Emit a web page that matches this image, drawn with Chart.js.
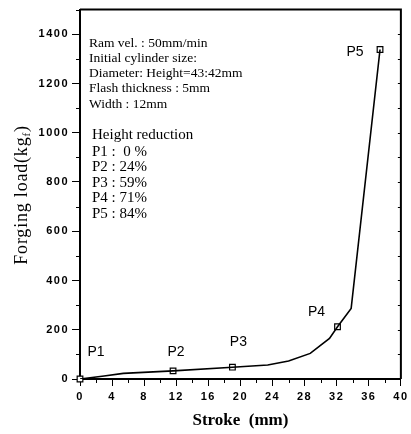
<!DOCTYPE html>
<html>
<head>
<meta charset="utf-8">
<script src="https://cdn.jsdelivr.net/npm/chart.js@4"></script>
<style>
  body { margin: 0; background: #fff; }
</style>
</head>
<body>
<canvas id="loadChart" width="411" height="434"></canvas>
<script>
// load-stroke curve
var stroke = [0, 3, 5.4, 11.6, 19, 23.4, 26, 28.7, 31.1, 32.1, 33.8, 37.4];
var load = [0, 12, 23, 33, 48, 57, 73, 104, 165, 212, 286, 1338];

// marked stages
var stageNames = ['P1', 'P2', 'P3', 'P4', 'P5'];
var stageStroke = [0, 11.6, 19, 32.1, 37.4];
var stageLoad = [0, 33, 48, 212, 1338];
var stageReduction = [' 0 %', '24%', '59%', '71%', '84%'];

var conditions = [
  'Ram vel. : 50mm/min',
  'Initial cylinder size:',
  'Diameter: Height=43:42mm',
  'Flash thickness : 5mm',
  'Width : 12mm'
];

// where each stage label sits relative to its marker (px)
var labelOffset = [[16, -27], [3, -19], [6, -25], [-21, -15], [-25, 3]];

var curve = [], marks = [];
for (var i = 0; i < stroke.length; i++) curve.push({x: stroke[i], y: load[i]});
for (var j = 0; j < stageStroke.length; j++) marks.push({x: stageStroke[j], y: stageLoad[j]});

var serif = "'Liberation Serif', 'DejaVu Serif', serif";
var sans = "'Liberation Sans', Arial, sans-serif";

var extras = {
  id: 'extras',
  beforeDraw: function (chart) {
    chart.ctx.letterSpacing = '1.5px';
  },
  afterDraw: function (chart) {
    var ctx = chart.ctx, a = chart.chartArea;
    var xs = chart.scales.x, ys = chart.scales.y;
    ctx.save();
    ctx.letterSpacing = '0px';
    ctx.strokeStyle = '#000';
    ctx.fillStyle = '#000';

    // top and right frame
    ctx.lineWidth = 2;
    ctx.beginPath();
    ctx.moveTo(a.left, a.top);
    ctx.lineTo(a.right, a.top);
    ctx.lineTo(a.right, a.bottom);
    ctx.stroke();

    // minor ticks
    ctx.lineWidth = 1;
    ctx.beginPath();
    for (var v = 100; v <= 1500; v += 200) {
      var py = Math.round(ys.getPixelForValue(v)) + 0.5;
      ctx.moveTo(a.left - 4, py); ctx.lineTo(a.left, py);
    }
    for (var s = 2; s < 40; s += 4) {
      var px = Math.round(xs.getPixelForValue(s)) + 0.5;
      ctx.moveTo(px, a.bottom); ctx.lineTo(px, a.bottom + 4);
    }
    // small inward ticks on the right frame
    for (var w = 100; w <= 1400; w += 100) {
      var ry = Math.round(ys.getPixelForValue(w)) + 0.5;
      ctx.moveTo(a.right - 3, ry); ctx.lineTo(a.right, ry);
    }
    ctx.stroke();

    // stage labels
    ctx.font = '14px ' + sans;
    ctx.textAlign = 'center';
    ctx.textBaseline = 'middle';
    for (var k = 0; k < stageNames.length; k++) {
      var mx = xs.getPixelForValue(stageStroke[k]);
      var my = ys.getPixelForValue(stageLoad[k]);
      ctx.fillText(stageNames[k], mx + labelOffset[k][0], my + labelOffset[k][1]);
    }

    // test conditions
    ctx.textAlign = 'left';
    ctx.font = '13.5px ' + serif;
    for (var c = 0; c < conditions.length; c++) {
      ctx.fillText(conditions[c], 89, 43 + c * 15.3);
    }
    ctx.font = '15px ' + serif;
    ctx.fillText('Height reduction', 92, 135);
    for (var r = 0; r < stageNames.length; r++) {
      ctx.fillText(stageNames[r] + ' : ' + stageReduction[r], 92, 152 + r * 15.5);
    }

    // axis titles
    ctx.textAlign = 'center';
    ctx.font = 'bold 17px ' + serif;
    ctx.fillText('Stroke  (mm)', (a.left + a.right) / 2, 421);

    ctx.translate(22, 195);
    ctx.rotate(-Math.PI / 2);
    ctx.letterSpacing = '0.8px';
    ctx.font = '18px ' + serif;
    var main = 'Forging load(kg', sub = 'f', close = ')';
    var w1 = ctx.measureText(main).width;
    ctx.font = '11px ' + serif;
    var w2 = ctx.measureText(sub).width;
    ctx.font = '18px ' + serif;
    var w3 = ctx.measureText(close).width;
    var x0 = -(w1 + w2 + w3) / 2;
    ctx.textAlign = 'left';
    ctx.fillText(main, x0, 0);
    ctx.font = '11px ' + serif;
    ctx.fillText(sub, x0 + w1, 5);
    ctx.font = '18px ' + serif;
    ctx.fillText(close, x0 + w1 + w2, 0);
    ctx.restore();
  }
};

var ctx = document.getElementById('loadChart').getContext('2d');
var loadChart = new Chart(ctx, {
  type: 'scatter',
  data: {
    datasets: [
      {
        label: 'Forging load',
        data: curve,
        showLine: true,
        borderColor: '#000',
        borderWidth: 1.6,
        pointRadius: 0,
        tension: 0
      },
      {
        label: 'Stages',
        data: marks,
        showLine: false,
        clip: false,
        pointStyle: 'rect',
        pointRadius: 4,
        pointBorderWidth: 1.2,
        pointBorderColor: '#000',
        pointBackgroundColor: '#fff'
      }
    ]
  },
  options: {
    responsive: false,
    animation: false,
    layout: { padding: { top: 6, right: 9, left: 0, bottom: 0 } },
    plugins: { legend: { display: false }, tooltip: { enabled: false } },
    scales: {
      x: {
        type: 'linear',
        min: 0, max: 40,
        afterFit: function (scale) { scale.height = 55; },
        border: { display: true, color: '#000', width: 2 },
        grid: { drawOnChartArea: false, tickLength: 7, tickColor: '#000', tickWidth: 1 },
        ticks: {
          stepSize: 4,
          color: '#000',
          padding: 4,
          maxRotation: 0,
          font: { family: sans, size: 11, weight: 'bold' }
        }
      },
      y: {
        type: 'linear',
        min: 0, max: 1500,
        afterFit: function (scale) { scale.width = 80; },
        border: { display: true, color: '#000', width: 2 },
        grid: { drawOnChartArea: false, tickLength: 8, tickColor: '#000', tickWidth: 1 },
        ticks: {
          stepSize: 200,
          includeBounds: false,
          color: '#000',
          padding: 3,
          font: { family: sans, size: 11, weight: 'bold' },
          callback: function (value) { return String(value); }
        }
      }
    }
  },
  plugins: [extras]
});
</script>
</body>
</html>
